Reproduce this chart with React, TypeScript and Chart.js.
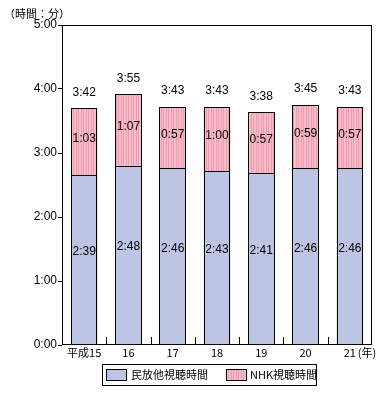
import React, { useEffect, useRef } from "react";
import { Chart, registerables } from "chart.js";

Chart.register(...registerables);

const categories = ["平成15", "16", "17", "18", "19", "20", "21"];
const minpoMinutes = [159, 168, 166, 163, 161, 166, 166];
const nhkMinutes = [63, 67, 57, 60, 57, 59, 57];
const seriesNames = ["民放他視聴時間", "NHK視聴時間"];
const yTicks = [0, 60, 120, 180, 240, 300];

const FONT = "'Noto Sans CJK JP', 'DejaVu Sans', sans-serif";
const NUMFONT = "'Liberation Sans', 'DejaVu Sans', sans-serif";
const BLUE = "#BEC4E4";

function fmt(m: number): string {
  const h = Math.floor(m / 60);
  const mm = m % 60;
  return `${h}:${mm < 10 ? "0" : ""}${mm}`;
}

function makePinkPattern(): CanvasPattern | string {
  const c = document.createElement("canvas");
  c.width = 5;
  c.height = 4;
  const g = c.getContext("2d");
  if (!g) return "#F4B3C2";
  g.fillStyle = "#F6BCC9";
  g.fillRect(0, 0, 5, 4);
  g.fillStyle = "#EE9CB0";
  g.fillRect(1, 0, 1, 4);
  g.fillRect(3, 0, 1, 4);
  const p = g.createPattern(c, "repeat");
  return p || "#F4B3C2";
}

const overlayPlugin = {
  id: "overlay",
  afterDatasetsDraw(chart: any) {
    const ctx = chart.ctx;
    const { left, right, top, bottom } = chart.chartArea;
    const x = chart.scales.x;
    ctx.save();
    ctx.strokeStyle = "#000";
    ctx.lineWidth = 1;
    const n = categories.length;

    // crisp bar outlines
    for (let d = 0; d < 2; d++) {
      const meta = chart.getDatasetMeta(d);
      for (let i = 0; i < n; i++) {
        const b = meta.data[i];
        const x0 = Math.round(b.x - b.width / 2) + 0.5;
        const x1 = Math.round(b.x + b.width / 2) - 0.5;
        const y0 = Math.round(b.y) + 0.5;
        const y1 = d === 0 ? Math.round(b.base) - 0.5 : Math.round(b.base) + 0.5;
        ctx.strokeRect(x0, y0, x1 - x0, y1 - y0);
      }
    }

    // frame
    ctx.strokeRect(Math.round(left) + 0.5, Math.round(top) + 0.5, Math.round(right - left) - 1, Math.round(bottom - top) - 1);
    // inward x ticks at boundaries
    const w = (right - left) / n;
    ctx.beginPath();
    for (let i = 1; i < n; i++) {
      const xx = Math.round(left + i * w) + 0.5;
      ctx.moveTo(xx, bottom);
      ctx.lineTo(xx, bottom - 8);
    }
    ctx.stroke();

    // value labels
    ctx.fillStyle = "#000";
    ctx.font = `12px ${NUMFONT}`;
    ctx.textAlign = "center";
    ctx.textBaseline = "middle";
    const m0 = chart.getDatasetMeta(0);
    const m1 = chart.getDatasetMeta(1);
    for (let i = 0; i < n; i++) {
      const b0 = m0.data[i];
      const b1 = m1.data[i];
      const cx = b0.x;
      const blueMid = (b0.y + b0.base) / 2 - 8;
      ctx.fillText(fmt(minpoMinutes[i]), cx, blueMid);
      const pinkMid = (b1.y + b1.base) / 2 - 3;
      ctx.fillText(fmt(nhkMinutes[i]), cx, pinkMid);
      ctx.fillText(fmt(minpoMinutes[i] + nhkMinutes[i]), cx, b1.y - 16);
    }

    // unit title
    ctx.font = `11px ${FONT}`;
    ctx.textAlign = "left";
    ctx.fillText("（時間：分）", 4, 14);

    // (年) suffix
    const lastX = x.getPixelForValue(n - 1);
    ctx.textAlign = "left";
    ctx.fillText("(年)", lastX + 8, bottom + 8);

    // legend
    const lx = 102, ly = 364, lw = 214, lh = 21;
    ctx.fillStyle = "#fff";
    ctx.fillRect(lx, ly, lw, lh);
    ctx.strokeStyle = "#000";
    ctx.strokeRect(lx + 0.5, ly + 0.5, lw, lh);
    ctx.fillStyle = BLUE;
    ctx.fillRect(106, 369, 20, 11);
    ctx.strokeRect(106.5, 369.5, 20, 11);
    ctx.fillStyle = chart.data.datasets[1].backgroundColor;
    ctx.fillRect(226, 369, 20, 11);
    ctx.strokeRect(226.5, 369.5, 20, 11);
    ctx.fillStyle = "#000";
    ctx.textBaseline = "middle";
    ctx.font = `11px ${FONT}`;
    ctx.fillText(seriesNames[0], 131, 375);
    ctx.fillText(seriesNames[1], 250, 375);
    ctx.restore();
  },
};

export default function App() {
  const ref = useRef<HTMLCanvasElement | null>(null);
  useEffect(() => {
    if (!ref.current) return;
    const pink = makePinkPattern();
    const chart = new Chart(ref.current, {
      type: "bar",
      data: {
        labels: categories,
        datasets: [
          {
            label: seriesNames[0],
            data: minpoMinutes,
            backgroundColor: BLUE,
            borderWidth: 0,
            barPercentage: 0.6,
            categoryPercentage: 1,
          },
          {
            label: seriesNames[1],
            data: nhkMinutes,
            backgroundColor: pink as any,
            borderWidth: 0,
            barPercentage: 0.6,
            categoryPercentage: 1,
          },
        ],
      },
      options: {
        animation: false,
        responsive: false,
        maintainAspectRatio: false,
        layout: { padding: { left: 0, right: 16, top: 25, bottom: 32 } },
        plugins: { legend: { display: false }, tooltip: { enabled: false } },
        scales: {
          x: {
            stacked: true,
            grid: { display: false, drawTicks: false },
            border: { display: false },
            ticks: { color: "#000", font: { family: FONT, size: 11 }, padding: 1, maxRotation: 0 },
            afterFit(s: any) {
              s.height = 20;
            },
          },
          y: {
            stacked: true,
            min: 0,
            max: 300,
            afterBuildTicks(s: any) {
              s.ticks = yTicks.map((v) => ({ value: v }));
            },
            grid: { drawOnChartArea: false, drawTicks: true, tickLength: 4, color: "#000" },
            border: { display: false },
            ticks: {
              color: "#000",
              font: { family: NUMFONT, size: 12 },
              padding: 1,
              callback: (v: any) => fmt(Number(v)),
            },
            afterFit(s: any) {
              s.width = 62;
            },
          },
        },
      },
      plugins: [overlayPlugin],
    });
    return () => chart.destroy();
  }, []);
  return (
    <div style={{ position: "fixed", left: 0, top: 0, width: 388, height: 397, background: "#fff" }}>
      <canvas ref={ref} width={388} height={397} style={{ width: 388, height: 397 }} />
    </div>
  );
}
